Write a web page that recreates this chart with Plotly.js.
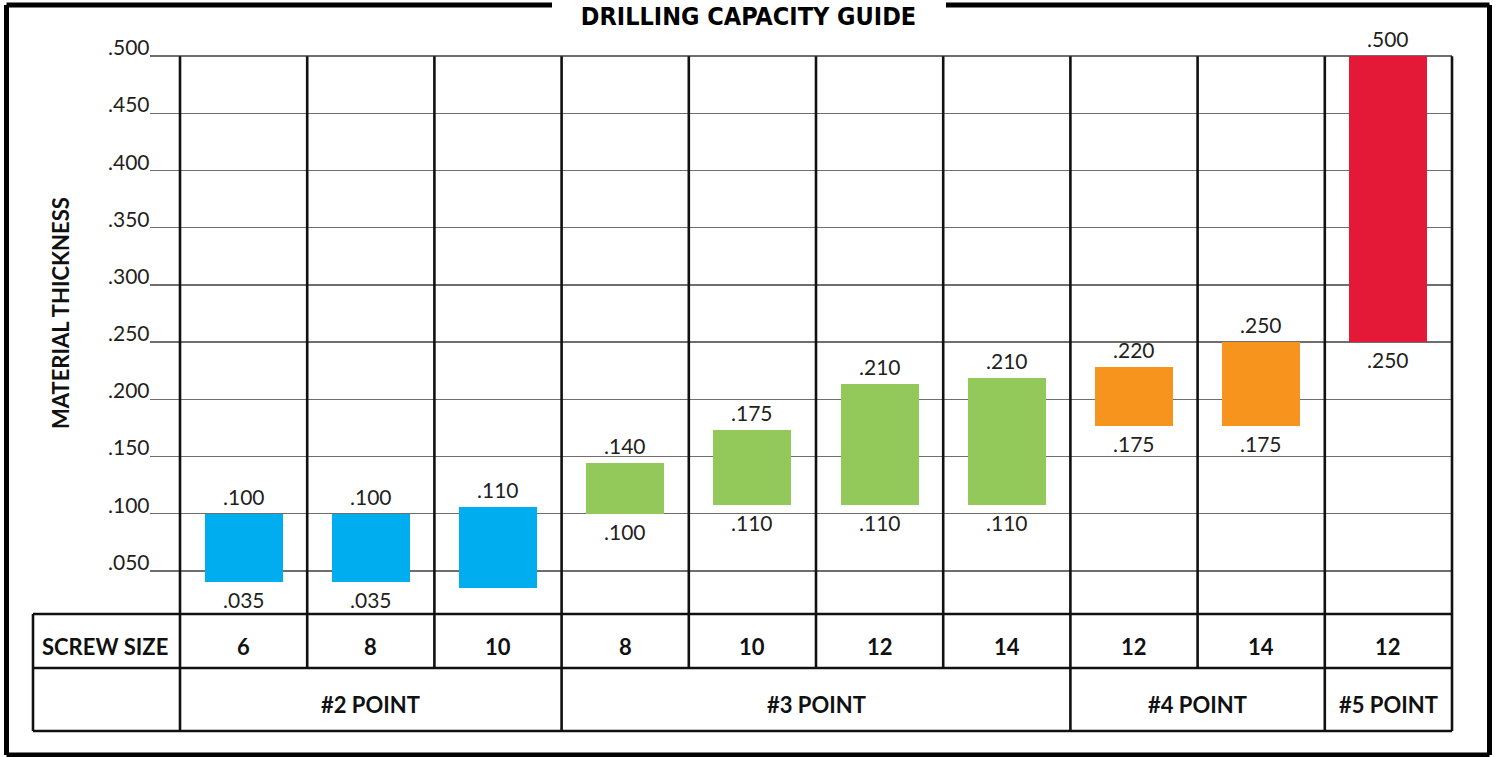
<!DOCTYPE html>
<html>
<head>
<meta charset="utf-8">
<script src="https://cdn.plot.ly/plotly-3.0.1.min.js"></script>
<style>
html,body{margin:0;padding:0;background:#fff;}
#chart{width:1497px;height:757px;}
</style>
</head>
<body>
<div id="chart"></div>
<script>
// ---------- data ----------
var screwSizes = ["6","8","10","8","10","12","14","12","14","12"];
var pointGroups = ["#2 POINT","#3 POINT","#4 POINT","#5 POINT"];
var groupOfColumn = [0,0,0,1,1,1,1,2,2,3];
var barLow  = [0.040,0.040,0.035,0.100,0.108,0.108,0.108,0.177,0.177,0.250];
var barHigh = [0.100,0.100,0.106,0.144,0.173,0.213,0.219,0.228,0.250,0.500];
var topLabels    = [".100",".100",".110",".140",".175",".210",".210",".220",".250",".500"];
var bottomLabels = [".035",".035","",".100",".110",".110",".110",".175",".175",".250"];
var groupColors = ["#00aeef","#93c95b","#f7941d","#e31937"];
var yTickVals = [0.05,0.10,0.15,0.20,0.25,0.30,0.35,0.40,0.45,0.50];
var yTickText = [".050",".100",".150",".200",".250",".300",".350",".400",".450",".500"];
var chartTitle = "DRILLING CAPACITY GUIDE";
var yTitle = "MATERIAL THICKNESS";
var screwHeader = "SCREW SIZE";

// ---------- geometry ----------
var W = 1497, H = 757;
var M = {l:150, r:45, t:55, b:143};
var plotW = W - M.l - M.r, plotH = H - M.t - M.b;
var nCols = screwSizes.length;
var colPx = (plotW - 30) / nCols;
var xMin = -0.5 - 30 / colPx, xMax = nCols - 0.5;
var yMin = 0.0123, yMax = 0.501;

function xToPaper(x){ return (x - xMin) / (xMax - xMin); }
function pxX(p){ return (p - M.l) / plotW; }
function pxY(q){ return (H - M.b - q) / plotH; }

var xs = screwSizes.map(function(_, i){ return i; });
var colors = groupOfColumn.map(function(g){ return groupColors[g]; });

var labelFont = {family:"Lato, 'Open Sans', sans-serif", size:21, color:"#231f20"};

var traces = [
  {
    type:"bar", x:xs, y:barHigh.map(function(h,i){return h - barLow[i];}), base:barLow,
    width:0.613, marker:{color:colors, line:{width:0}}, hoverinfo:"skip", showlegend:false
  }
];

var shapes = [];
var ann = [];
var LINE = {color:"#111", width:2.6};

// bar value labels
xs.forEach(function(i){
  if (topLabels[i]) ann.push({xref:"x", yref:"y", x:i, y:barHigh[i], xanchor:"center", yanchor:"bottom",
    yshift:3, text:topLabels[i], showarrow:false, font:labelFont});
  if (bottomLabels[i]) ann.push({xref:"x", yref:"y", x:i, y:barLow[i], xanchor:"center", yanchor:"top",
    yshift:-3, text:bottomLabels[i], showarrow:false, font:labelFont});
});

// frame (top line split around title)
var fr = {color:"#000", width:5};
var fx0 = pxX(6.5), fx1 = pxX(1489.5), fy0 = pxY(755), fy1 = pxY(5);
shapes.push({type:"line", xref:"paper", yref:"paper", x0:fx0, x1:fx0, y0:fy0, y1:fy1, line:fr});
shapes.push({type:"line", xref:"paper", yref:"paper", x0:fx1, x1:fx1, y0:fy0, y1:fy1, line:fr});
shapes.push({type:"line", xref:"paper", yref:"paper", x0:fx0, x1:fx1, y0:fy0, y1:fy0, line:fr});
shapes.push({type:"line", xref:"paper", yref:"paper", x0:fx0, x1:pxX(552), y0:fy1, y1:fy1, line:fr});
shapes.push({type:"line", xref:"paper", yref:"paper", x0:pxX(946), x1:fx1, y0:fy1, y1:fy1, line:fr});

// table rows
var tLeft = pxX(33), tRight = xToPaper(nCols - 0.5);
var rowTop = 0, rowMid = pxY(668), rowBot = pxY(731);
[rowTop,rowMid,rowBot].forEach(function(y){
  shapes.push({type:"line", xref:"paper", yref:"paper", x0:tLeft, x1:tRight, y0:y, y1:y, line:LINE});
});
shapes.push({type:"line", xref:"paper", yref:"paper", x0:tLeft, x1:tLeft, y0:rowBot, y1:rowTop, line:LINE});

// column separators
var topY = (0.5 - yMin) / (yMax - yMin);
for (var i = 0; i <= nCols; i++) {
  var xb = i - 0.5;
  var isGroupEdge = (i === 0 || i === nCols || groupOfColumn[i] !== groupOfColumn[i-1]);
  shapes.push({type:"line", xref:"paper", yref:"paper", x0:xToPaper(xb), x1:xToPaper(xb),
    y0: isGroupEdge ? rowBot : rowMid, y1: topY, line:LINE});
}

// y tick labels
yTickVals.forEach(function(v, k){
  ann.push({xref:"paper", yref:"y", x:0, y:v, xanchor:"right", yanchor:"bottom", yshift:-5, xshift:2,
    text:yTickText[k], showarrow:false, font:labelFont});
});

// table text
var boldFont = {family:"Lato, 'Open Sans', sans-serif", size:22, color:"#111", weight:900};
var row1C = pxY(646), row2C = pxY(704);
ann.push({xref:"paper", yref:"paper", x:pxX(105), y:row1C, xanchor:"center", yanchor:"middle",
  text:"<b>"+screwHeader+"</b>", showarrow:false, font:boldFont});
screwSizes.forEach(function(s, i){
  ann.push({xref:"x", yref:"paper", x:i, y:row1C, xanchor:"center", yanchor:"middle",
    text:"<b>"+s+"</b>", showarrow:false, font:boldFont});
});
pointGroups.forEach(function(g, gi){
  var idx = xs.filter(function(i){ return groupOfColumn[i] === gi; });
  var c = (idx[0] + idx[idx.length-1]) / 2;
  ann.push({xref:"x", yref:"paper", x:c, y:row2C, xanchor:"center", yanchor:"middle",
    text:"<b>"+g+"</b>", showarrow:false, font:boldFont});
});

// y axis title
ann.push({xref:"paper", yref:"paper", x:pxX(60), y:pxY(313), xanchor:"center", yanchor:"middle",
  textangle:-90, text:"<b>"+yTitle+"</b>", showarrow:false,
  font:{family:"Lato, 'Open Sans', sans-serif", size:22, color:"#111", weight:900}});

var layout = {
  width:W, height:H, margin:M, paper_bgcolor:"#fff", plot_bgcolor:"#fff",
  title:{text:"<b>"+chartTitle+"</b>", x:0.5, xanchor:"center", xref:"container",
    y:1 - 16/H, yanchor:"middle", yref:"container",
    font:{family:"'Liberation Sans Narrow', 'DejaVu Sans Condensed', sans-serif", size:25, color:"#000"}},
  xaxis:{range:[xMin,xMax], showgrid:false, zeroline:false, showticklabels:false, ticks:"", showline:false, fixedrange:true},
  yaxis:{range:[yMin,yMax], tickvals:yTickVals, showticklabels:false, ticks:"", showgrid:true,
    gridcolor:"#6e6e6e", gridwidth:1.5, zeroline:false, showline:false, fixedrange:true},
  shapes:shapes, annotations:ann, showlegend:false, bargap:0
};
Plotly.newPlot("chart", traces, layout, {displayModeBar:false, staticPlot:true});
</script>
</body>
</html>
